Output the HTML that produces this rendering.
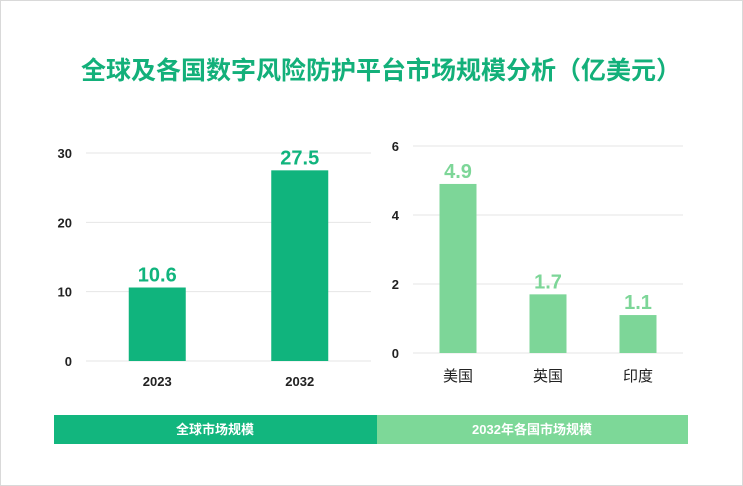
<!DOCTYPE html>
<html><head><meta charset="utf-8"><style>
body{margin:0;background:#fff;}
#wrap{position:relative;width:743px;height:486px;overflow:hidden;font-family:"Liberation Sans","Noto Sans CJK SC",sans-serif;box-sizing:border-box;border:1px solid #d9d9d9;}
svg text{font-family:"Liberation Sans","Noto Sans CJK SC",sans-serif;}
</style></head><body>
<div id="wrap">
<svg id="svg" width="743" height="486">
<text x="380" y="78" text-anchor="middle" font-size="25" font-weight="bold" fill="#13b07a">全球及各国数字风险防护平台市场规模分析（亿美元）</text>
<g id="left"></g>
<g id="right"></g>
<rect x="53" y="414" width="323" height="29" fill="#12b67e"/>
<text x="214" y="433" text-anchor="middle" font-size="13" font-weight="bold" fill="#fff">全球市场规模</text>
<rect x="376" y="414" width="311" height="29" fill="#7dd898"/>
<text x="531" y="433" text-anchor="middle" font-size="13" font-weight="bold" fill="#fff">2032年各国市场规模</text>
</svg>
</div>
<script>
const leftCats=["2023","2032"];
const leftVals=[10.6,27.5];
const leftTicks=[0,10,20,30];
const rightCats=["美国","英国","印度"];
const rightVals=[4.9,1.7,1.1];
const rightTicks=[0,2,4,6];
const NS="http://www.w3.org/2000/svg";
function mk(p,t,a,txt){const e=document.createElementNS(NS,t);for(const k in a)e.setAttribute(k,a[k]);if(txt!==undefined)e.textContent=txt;p.appendChild(e);return e;}
function draw(g,cats,vals,ticks,o){
  const y=v=>o.y0-(v/o.max)*(o.y0-o.yTop);
  ticks.forEach(t=>{
    const l=mk(g,'line',{x1:o.x0,x2:o.x1,y1:y(t),y2:y(t),stroke:'#e6e6e6','stroke-width':1});
    
    
    const tx=mk(g,'text',{x:o.tickX,y:y(t)+5,'text-anchor':'end','font-size':13,'font-weight':'bold',fill:'#222'},String(t));
    
    
  });
  const band=(o.x1-o.x0)/cats.length;
  cats.forEach((c,i)=>{
    const cx=o.x0+band*(i+0.5);
    const b=mk(g,'rect',{x:cx-o.bw/2,y:y(vals[i]),width:o.bw,height:o.y0-y(vals[i]),fill:o.color});
    
    
    const v=mk(g,'text',{x:cx,y:y(vals[i])-6,'text-anchor':'middle','font-size':20,'font-weight':'bold',fill:o.color},String(vals[i]));
    
    
    const xl=mk(g,'text',{x:cx,y:o.y0+o.lblDy,'text-anchor':'middle','font-size':o.lblSize,'font-weight':o.lblW,fill:'#222'},c);
    
    
  });
}
draw(document.getElementById('left'),leftCats,leftVals,leftTicks,{x0:85,x1:370,y0:360,yTop:152,max:30,tickX:71,bw:57,color:'#10b47d',lblDy:25,lblSize:13,lblW:'bold'});
draw(document.getElementById('right'),rightCats,rightVals,rightTicks,{x0:412,x1:682,y0:352,yTop:145,max:6,tickX:398,bw:37,color:'#7dd698',lblDy:28,lblSize:15,lblW:'normal'});
</script>
</body></html>
